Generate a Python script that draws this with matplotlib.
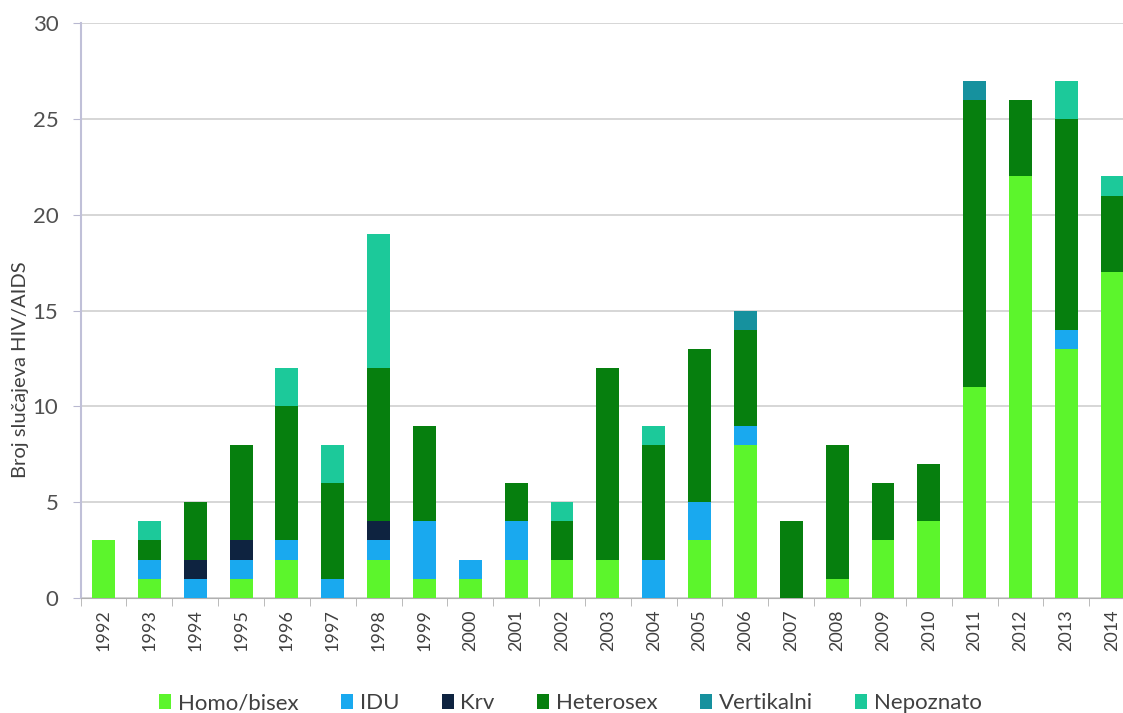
import numpy as np
import matplotlib
matplotlib.use('Agg')
import matplotlib.pyplot as plt

plt.rcParams['font.family'] = ['Lato', 'DejaVu Sans']

years = [str(y) for y in range(1992, 2015)]
homo_bisex = [3, 1, 0, 1, 2, 0, 2, 1, 1, 2, 2, 2, 0, 3, 8, 0, 1, 3, 4, 11, 22, 13, 17]
idu =        [0, 1, 1, 1, 1, 1, 1, 3, 1, 2, 0, 0, 2, 2, 1, 0, 0, 0, 0, 0, 0, 1, 0]
krv =        [0, 0, 1, 1, 0, 0, 1, 0, 0, 0, 0, 0, 0, 0, 0, 0, 0, 0, 0, 0, 0, 0, 0]
heterosex =  [0, 1, 3, 5, 7, 5, 8, 5, 0, 2, 2, 10, 6, 8, 5, 4, 7, 3, 3, 15, 4, 11, 4]
vertikalni = [0, 0, 0, 0, 0, 0, 0, 0, 0, 0, 0, 0, 0, 0, 1, 0, 0, 0, 0, 1, 0, 0, 0]
nepoznato =  [0, 1, 0, 0, 2, 2, 7, 0, 0, 0, 1, 0, 1, 0, 0, 0, 0, 0, 0, 0, 0, 2, 1]

series = [
    ('Homo/bisex', homo_bisex, '#5cf52c'),
    ('IDU', idu, '#19a9ef'),
    ('Krv', krv, '#0e2340'),
    ('Heterosex', heterosex, '#067f0e'),
    ('Vertikalni', vertikalni, '#16919e'),
    ('Nepoznato', nepoznato, '#1cc99a'),
]

fig = plt.figure(figsize=(11.23, 7.13), dpi=100)
ax = fig.add_axes([0.0718, 0.1613, 0.939, 0.8064])

x = np.arange(len(years))
bottom = np.zeros(len(years))
for label, vals, color in series:
    vals = np.array(vals, dtype=float)
    ax.bar(x, vals, width=0.5, bottom=bottom, color=color, label=label, zorder=3)
    bottom += vals

ax.set_xlim(-0.5, len(years) - 0.5)
ax.set_ylim(0, 30)
ax.set_yticks(range(0, 31, 5))
ax.grid(axis='y', color='#d0d0d0', linewidth=1.2, zorder=0)

ax.set_xticks(x)
ax.set_xticklabels(years, rotation=90, fontsize=13, color='#404040')
ax.set_xticks(np.arange(-0.5, len(years), 1), minor=True)
ax.tick_params(axis='x', which='major', length=0, pad=8)
ax.tick_params(axis='x', which='minor', length=6, color='#b0b0b0')
ax.tick_params(axis='y', labelsize=16, length=6, color='#b8b8d0', pad=10)
for t in ax.get_yticklabels():
    t.set_color('#505050')

for s in ['top', 'right']:
    ax.spines[s].set_visible(False)
ax.spines['left'].set_color('#c0c0d8')
ax.spines['left'].set_linewidth(1.5)
ax.spines['bottom'].set_color('#b0b0b0')

fig.text(0.018, 0.481, 'Broj slučajeva HIV/AIDS', rotation=90, ha='center', va='center',
         fontsize=14.5, color='#404040')

fig.legend(loc='center', bbox_to_anchor=(0.508, 0.014), ncol=6, frameon=False,
           fontsize=16, handlelength=0.55, handleheight=0.65, handletextpad=0.3,
           columnspacing=1.9, labelcolor='#404040')

fig.savefig('out.png', dpi=100)
